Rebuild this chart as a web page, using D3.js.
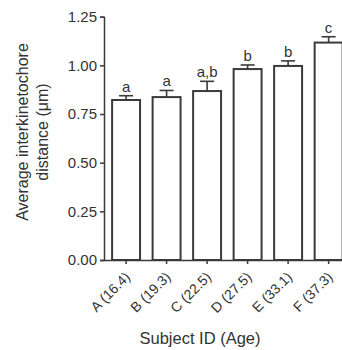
<!DOCTYPE html>
<html><head><meta charset="utf-8">
<script src="https://cdn.jsdelivr.net/npm/d3@7"></script>
<style>body{margin:0;background:#fff}svg{display:block}text{font-family:"Liberation Sans",Arial,sans-serif;fill:#333}</style>
</head><body>
<script>
const categories = ["A (16.4)","B (19.3)","C (22.5)","D (27.5)","E (33.1)","F (37.3)"];
const values = [0.822, 0.837, 0.868, 0.981, 0.997, 1.117];
const errors = [0.022, 0.034, 0.05, 0.021, 0.026, 0.03];
const letters = ["a","a","a,b","b","b","c"];
const yTicks = [0, 0.25, 0.5, 0.75, 1.0, 1.25];

const W = 342, H = 350;
const svg = d3.select("body").append("svg").attr("width", W).attr("height", H);
const y = d3.scaleLinear().domain([0, 1.25]).range([260, 16.7]);
const x = d3.scaleBand().domain(categories).range([104, 350.7]).paddingInner(0.31).paddingOuter(0.2);
const col = "#3a3a3a";

// bars
svg.selectAll("rect.bar").data(values).enter().append("rect")
  .attr("x", (d,i) => x(categories[i]))
  .attr("y", d => y(d))
  .attr("width", x.bandwidth())
  .attr("height", d => y(0) - y(d))
  .attr("fill", "#fff").attr("stroke", col).attr("stroke-width", 2);

// error bars
const eg = svg.append("g").attr("stroke", col).attr("stroke-width", 1.6);
values.forEach((v,i) => {
  const cx = x(categories[i]) + x.bandwidth()/2;
  eg.append("line").attr("x1", cx).attr("x2", cx).attr("y1", y(v)).attr("y2", y(v+errors[i]));
  eg.append("line").attr("x1", cx-7).attr("x2", cx+7).attr("y1", y(v+errors[i])).attr("y2", y(v+errors[i]));
});

// letters
svg.selectAll("text.let").data(letters).enter().append("text")
  .attr("x", (d,i) => x(categories[i]) + x.bandwidth()/2)
  .attr("y", (d,i) => y(values[i]+errors[i]) - 4)
  .attr("text-anchor", "middle").style("font-size", "15px").text(d => d);

// y axis
const ya = svg.append("g").attr("transform", "translate(104,0)")
  .call(d3.axisLeft(y).tickValues(yTicks).tickFormat(d3.format(".2f")).tickSize(4).tickPadding(3));
ya.select(".domain").attr("stroke", col).attr("stroke-width", 1.5);
ya.selectAll(".tick line").attr("stroke", col).attr("stroke-width", 1.5);
ya.selectAll(".tick text").style("font-size", "15px").attr("fill", "#333").style("font-family", '"Liberation Sans",Arial,sans-serif');

// x axis
const xa = svg.append("g").attr("transform", "translate(0,260)")
  .call(d3.axisBottom(x).tickSize(4).tickSizeOuter(0).tickPadding(3));
xa.select(".domain").attr("stroke", col).attr("stroke-width", 1.5);
xa.selectAll(".tick line").attr("stroke", col).attr("stroke-width", 1.5);
xa.selectAll(".tick text").style("font-size", "14px").attr("fill", "#333")
  .style("font-family", '"Liberation Sans",Arial,sans-serif')
  .attr("text-anchor", "end").attr("dx", 0).attr("dy", 0)
  .attr("transform", "translate(5,18) rotate(-45)").attr("y", 0);

// titles
svg.append("text").attr("x", 200).attr("y", 344).attr("text-anchor", "middle")
  .style("font-size", "16.5px").text("Subject ID (Age)");
const yt = svg.append("text").attr("transform", "translate(0,132) rotate(-90)").attr("text-anchor", "middle").style("font-size", "16px");
yt.append("tspan").attr("x", 0).attr("y", 28).text("Average interkinetochore");
yt.append("tspan").attr("x", 0).attr("y", 48).text("distance (\u03bcm)");
</script>
</body></html>
